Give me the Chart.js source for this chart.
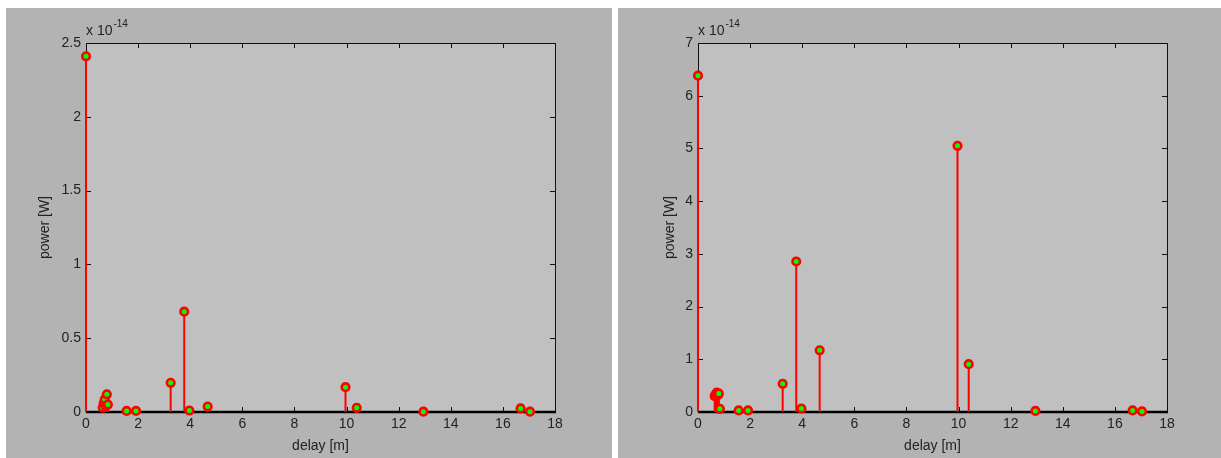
<!DOCTYPE html>
<html>
<head>
<meta charset="utf-8">
<script src="https://cdn.jsdelivr.net/npm/chart.js@4.4.0/dist/chart.umd.min.js"></script>
<style>
html,body{margin:0;padding:0;background:#fff;}
body{width:1221px;height:458px;position:relative;overflow:hidden;}
.painel{position:absolute;top:8px;height:450px;background:#b3b3b3;}
#pEsq{left:6px;width:606px;}
#pDir{left:618px;width:603px;}
canvas{display:block;}
</style>
</head>
<body>
<div class="painel" id="pEsq"><canvas id="gEsq" width="606" height="450"></canvas></div>
<div class="painel" id="pDir"><canvas id="gDir" width="603" height="450"></canvas></div>
<script>
// ===== Dados (potência em unidades de 1e-14 W) =====
const atrasos = [0, 0.64, 0.68, 0.72, 0.76, 0.80, 0.84, 1.56, 1.92, 3.25, 3.77, 3.97, 4.67, 9.96, 10.39, 12.95, 16.68, 17.04];
const potEsq  = [2.41, 0.03, 0.06, 0.085, 0.04, 0.12, 0.05, 0.007, 0.007, 0.198, 0.68, 0.01, 0.037, 0.168, 0.028, 0.002, 0.024, 0.002];
const potDir  = [6.38, 0.30, 0.34, 0.37, 0.32, 0.35, 0.06, 0.03, 0.03, 0.535, 2.855, 0.066, 1.17, 5.05, 0.907, 0.02, 0.03, 0.01];
const xMax = 18, xPasso = 2;
const yMaxEsq = 2.5, yPassoEsq = 0.5;
const yMaxDir = 7, yPassoDir = 1;
const expoente = '-14';

Chart.defaults.font.family = '"Liberation Sans", Arial, sans-serif';
Chart.defaults.color = '#222';

// fundo da área, caixa, ticks para dentro, linha de base e o "x 10^-14"
const eixosMatlab = {
  id: 'eixosMatlab',
  beforeDraw(chart){
    const {ctx, chartArea:a} = chart;
    ctx.save();
    ctx.fillStyle = '#c0c0c0';
    ctx.fillRect(a.left, a.top, a.right - a.left, a.bottom - a.top);
    ctx.restore();
  },
  beforeDatasetsDraw(chart){
    const {ctx, chartArea:a, scales:{x, y}} = chart;
    ctx.save();
    ctx.strokeStyle = '#111';
    ctx.lineWidth = 1;
    const tl = 5;
    ctx.beginPath();
    // caixa
    ctx.moveTo(a.left + 0.5, a.bottom); ctx.lineTo(a.left + 0.5, a.top + 0.5);
    ctx.lineTo(a.right + 0.5, a.top + 0.5); ctx.lineTo(a.right + 0.5, a.bottom);
    // ticks x
    x.ticks.forEach(t => {
      const px = Math.round(x.getPixelForValue(t.value)) + 0.5;
      ctx.moveTo(px, a.bottom); ctx.lineTo(px, a.bottom - tl);
      ctx.moveTo(px, a.top); ctx.lineTo(px, a.top + tl);
    });
    // ticks y
    y.ticks.forEach(t => {
      const py = Math.round(y.getPixelForValue(t.value)) + 0.5;
      ctx.moveTo(a.left, py); ctx.lineTo(a.left + tl, py);
      ctx.moveTo(a.right, py); ctx.lineTo(a.right - tl, py);
    });
    ctx.stroke();
    // linha de base (y = 0)
    ctx.strokeStyle = '#000';
    ctx.lineWidth = 2.5;
    const y0 = y.getPixelForValue(0);
    ctx.beginPath();
    ctx.moveTo(a.left, y0); ctx.lineTo(a.right + 1, y0);
    ctx.stroke();
    // multiplicador
    ctx.fillStyle = '#222';
    ctx.textBaseline = 'alphabetic';
    ctx.font = '14px "Liberation Sans", Arial, sans-serif';
    ctx.fillText('x 10', a.left, a.top - 8);
    const w = ctx.measureText('x 10').width;
    ctx.font = '10px "Liberation Sans", Arial, sans-serif';
    ctx.fillText(expoente, a.left + w + 1, a.top - 16);
    ctx.restore();
  }
};

function criarGrafico(id, pot, yMax, yPasso, padDir, padTitulo){
  const hastes = atrasos.map((d, i) => ({
    type: 'scatter',
    data: [{x: d, y: 0}, {x: d, y: pot[i]}],
    showLine: true, borderColor: '#ff0000', borderWidth: 2,
    pointRadius: 0, order: 2, clip: false
  }));
  const pontos = {
    type: 'scatter',
    data: atrasos.map((d, i) => ({x: d, y: pot[i]})),
    showLine: false, pointRadius: 3.8, pointBorderWidth: 2.6,
    pointBorderColor: '#ff0000', pointBackgroundColor: '#00ff00',
    order: 1, clip: false
  };
  const fonte = {size: 14};
  return new Chart(document.getElementById(id), {
    type: 'scatter',
    data: {datasets: [...hastes, pontos]},
    plugins: [eixosMatlab],
    options: {
      responsive: false, animation: false, events: [],
      devicePixelRatio: 1,
      layout: {padding: {left: 0, top: 35, right: padDir, bottom: 0}},
      plugins: {legend: {display: false}, tooltip: {enabled: false}},
      scales: {
        x: {
          type: 'linear', min: 0, max: xMax,
          ticks: {stepSize: xPasso, font: fonte, padding: 4, maxRotation: 0},
          grid: {display: false, drawTicks: false}, border: {display: false},
          title: {display: true, text: 'delay [m]', font: fonte, padding: {top: 0, bottom: 3}},
          afterFit(s){ s.height = 46; }
        },
        y: {
          type: 'linear', min: 0, max: yMax,
          ticks: {stepSize: yPasso, font: fonte, padding: 5, callback: v => String(+v.toFixed(2))},
          grid: {display: false, drawTicks: false}, border: {display: false},
          title: {display: true, text: 'power [W]', font: fonte, padding: {top: padTitulo, bottom: 0}},
          afterFit(s){ s.width = 80; }
        }
      }
    }
  });
}

criarGrafico('gEsq', potEsq, yMaxEsq, yPassoEsq, 57, 31);
criarGrafico('gDir', potDir, yMaxDir, yPassoDir, 54, 44);
</script>
</body>
</html>
